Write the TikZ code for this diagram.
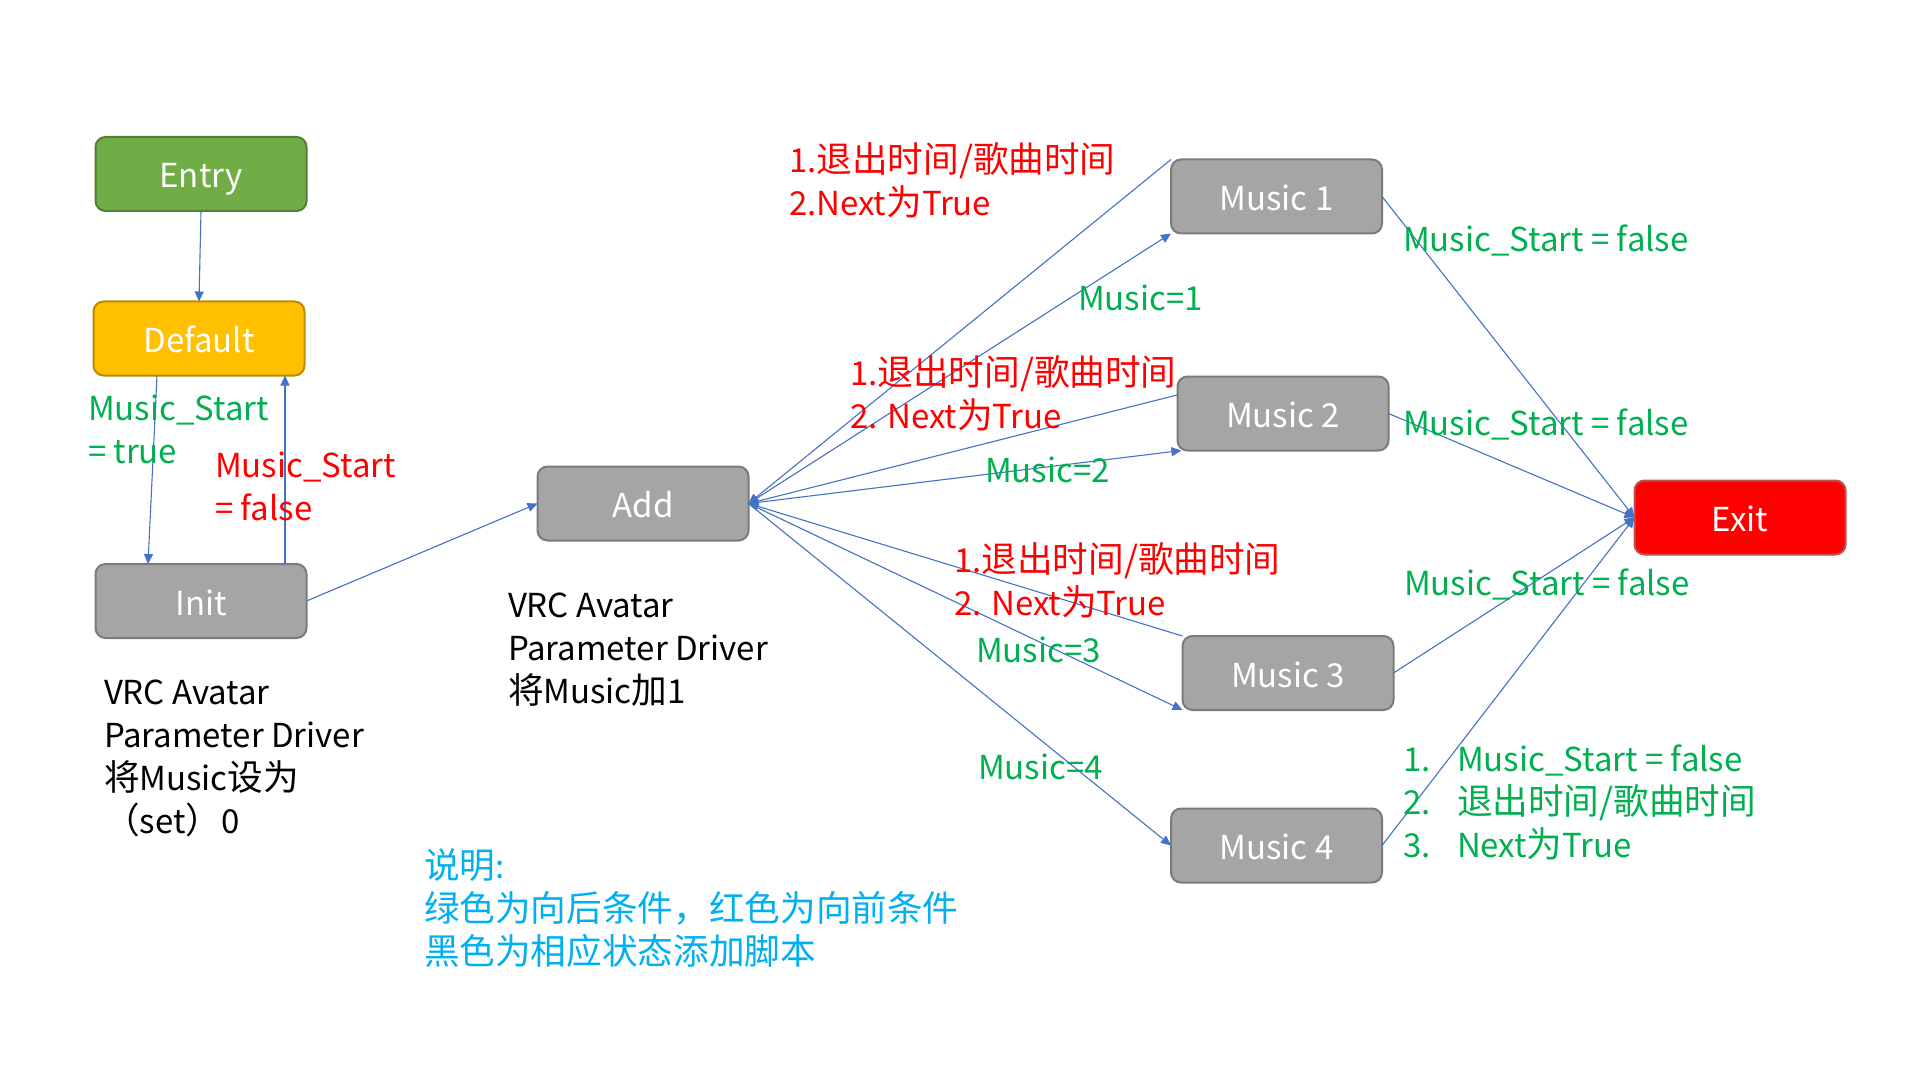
\documentclass[tikz,border=0pt]{standalone}
\usepackage{fontspec}
\setmainfont{Noto Sans CJK SC}
\newfontfamily\cjkbig{Noto Sans CJK SC}[Scale=1.08]
\newcommand\zh[1]{{\cjkbig #1}}
\usetikzlibrary{arrows.meta,calc}
\definecolor{lineblue}{HTML}{4472C4}
\definecolor{stgray}{HTML}{A5A5A5}
\definecolor{stgrayline}{HTML}{7B7B7B}
\definecolor{entryfill}{HTML}{70AD47}
\definecolor{entryline}{HTML}{507E32}
\definecolor{deffill}{HTML}{FFC000}
\definecolor{defline}{HTML}{BC8C00}
\definecolor{exitline}{HTML}{C0504D}
\definecolor{tgreen}{HTML}{00B050}
\definecolor{tred}{HTML}{FF0000}
\definecolor{tblue}{HTML}{00B0F0}
\begin{document}
\begin{tikzpicture}[x=0.5pt,y=-0.5pt,
  font=\fontsize{16.5}{21.5}\selectfont,
  state/.style={rounded corners=5pt, draw, line width=1pt, minimum width=105.5pt,
    minimum height=37pt, text=white, inner sep=0pt, outer sep=0pt,
    text height=16pt, text depth=2pt},
  grey/.style={state, fill=stgray, draw=stgrayline},
  arr/.style={draw=lineblue, line width=0.55pt, -{Triangle[length=5pt,width=4.5pt]}},
  lab/.style={inner sep=0pt, outer sep=0pt, anchor=west, align=left},
  glab/.style={lab, text=tgreen},
  rlab/.style={lab, text=tred},
  klab/.style={lab, text=black},
  blab/.style={lab, text=tblue}]
\useasboundingbox[fill=white] (0,0) rectangle (1920,1080);

% states
\node[state, fill=entryfill, draw=entryline] (entry) at (201,174) {Entry};
\node[state, fill=deffill, draw=defline] (default) at (199,338.5) {Default};
\node[grey] (init) at (201,601) {Init};
\node[grey] (add) at (643,503.5) {Add};
\node[grey] (m1) at (1276.5,196.5) {Music 1};
\node[grey] (m2) at (1283,413.5) {Music 2};
\node[grey] (m3) at (1288,673) {Music 3};
\node[grey] (m4) at (1276.5,845.5) {Music 4};
\node[state, fill=tred, draw=exitline] (exit) at (1740,517.5) {Exit};

% connectors
\draw[arr] (entry.south) -- (default.north);
\draw[arr] ($(default.south)+(-42,0)$) -- ($(init.north)+(-53,0)$);
\draw[arr] ($(init.north)+(84,0)$) -- ($(default.south)+(86,0)$);
\draw[arr] (init.east) -- (add.west);

\draw[arr] (m1.north west) -- (add.east);
\draw[arr] (add.east) -- (m1.south west);
\draw[arr] (m2.170) -- (add.east);
\draw[arr] (add.east) -- (m2.200);
\draw[arr] (m3.north west) -- (add.east);
\draw[arr] (add.east) -- (m3.south west);
\draw[arr] (add.east) -- (m4.west);

\draw[arr] (m1.east) -- (exit.west);
\draw[arr] (m2.east) -- (exit.west);
\draw[arr] (m3.east) -- (exit.west);
\draw[arr] (m4.east) -- (exit.west);

% labels
\node[glab] (l1) at (88,429.5) {Music\_Start\\= true};
\node[rlab] (l2) at (215,486.5) {Music\_Start\\= false};
\node[klab] (l3) at (104,758.5) {VRC Avatar\\Parameter Driver\\\zh{将}Music\zh{设为}\\\zh{（}set\zh{）}0};
\node[klab] (l4) at (508,650) {VRC Avatar\\Parameter Driver\\\zh{将}Music\zh{加}1};
\node[blab] (l5) at (424,908.5) {\zh{说明}:\\\zh{绿色为向后条件，红色为向前条件}\\\zh{黑色为相应状态添加脚本}};

\node[rlab] (r1) at (789,180.5) {1.\zh{退出时间/歌曲时间}\\2.Next\zh{为}True};
\node[rlab] (r2) at (850,393.5) {1.\zh{退出时间/歌曲时间}\\2. Next\zh{为}True};
\node[rlab] (r3) at (954,580.5) {1.\zh{退出时间/歌曲时间}\\2. Next\zh{为}True};

\node[glab] (g1) at (1078,298) {Music=1};
\node[glab] (g2) at (985,470) {Music=2};
\node[glab] (g3) at (976,650) {Music=3};
\node[glab] (g4) at (978,767) {Music=4};

\node[glab] (s1) at (1403,240) {Music\_Start = false};
\node[glab] (s2) at (1403,424) {Music\_Start = false};
\node[glab] (s3) at (1404,584) {Music\_Start = false};
\node[glab] (s4) at (1403,802) {\makebox[27pt][l]{1.}Music\_Start = false\\
  \makebox[27pt][l]{2.}\zh{退出时间/歌曲时间}\\
  \makebox[27pt][l]{3.}Next\zh{为}True};
\end{tikzpicture}
\end{document}
